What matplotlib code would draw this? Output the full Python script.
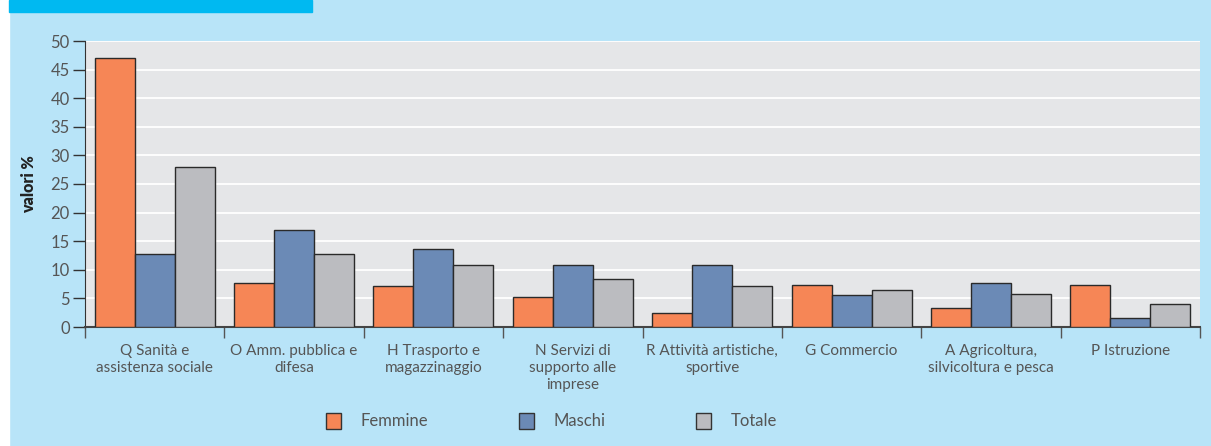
import matplotlib
matplotlib.use("Agg")
import matplotlib.pyplot as plt
from matplotlib.patches import Rectangle, Patch
import numpy as np

categories = ["Q Sanità e\nassistenza sociale", "O Amm. pubblica e\ndifesa",
              "H Trasporto e\nmagazzinaggio", "N Servizi di\nsupporto alle\nimprese",
              "R Attività artistiche,\nsportive", "G Commercio",
              "A Agricoltura,\nsilvicoltura e pesca", "P Istruzione"]
femmine = [47.0, 7.7, 7.2, 5.2, 2.5, 7.4, 3.4, 7.3]
maschi = [12.7, 16.9, 13.6, 10.9, 10.8, 5.6, 7.7, 1.5]
totale = [28.0, 12.7, 10.8, 8.4, 7.1, 6.4, 5.8, 4.1]
series_names = ["Femmine", "Maschi", "Totale"]
colors = ["#f68656", "#6b8ab6", "#bbbcc0"]
yticks = list(range(0, 51, 5))

plt.rcParams['font.family'] = ['Lato', 'DejaVu Sans']
W, H = 1211, 446
fig = plt.figure(figsize=(W / 100, H / 100), dpi=100)
fig.patch.set_facecolor("#b8e4f8")
# white left strip and top blue band
fig.add_artist(Rectangle((0, 0), 9 / W, 1, transform=fig.transFigure, color="white", zorder=0))
fig.add_artist(Rectangle((9 / W, 1 - 12 / H), (312 - 9) / W, 12 / H, transform=fig.transFigure,
                         color="#00b9f1", zorder=0))

ax = fig.add_axes([85 / W, 119 / H, (1200 - 85) / W, (327 - 41) / H])
ax.set_facecolor("#e5e6e8")
n = len(categories)
x = np.arange(n) + 0.5
bw = 0.287
for k, (vals, col) in enumerate(zip([femmine, maschi, totale], colors)):
    ax.bar(x + (k - 1) * bw, vals, width=bw, color=col, edgecolor="#2a2a2a", linewidth=1.0, zorder=3)

ax.set_xlim(0, n)
ax.set_ylim(0, 50)
ax.set_yticks(yticks)
ax.yaxis.grid(True, color="white", linewidth=1.3, zorder=1)
ax.set_axisbelow(True)
ax.tick_params(axis="y", length=9, width=1, color="#333333", labelsize=12, labelcolor="#555555", pad=2)
ax.set_xticks(np.arange(n + 1))
ax.set_xticklabels([])
ax.tick_params(axis="x", which="major", length=8, width=1, color="#555555")
ax.set_xticks(x, minor=True)
ax.set_xticklabels(categories, minor=True, fontsize=11, color="#555555", linespacing=1.3)
ax.tick_params(axis="x", which="minor", length=0, pad=12)
for s in ["top", "right"]:
    ax.spines[s].set_visible(False)
ax.spines["left"].set_color("#333333")
ax.spines["bottom"].set_color("#444444")
ax.spines["bottom"].set_linewidth(1.5)
ax.set_ylabel("valori %", fontsize=11.5, fontweight="heavy", color="#222222", labelpad=10)

handles = [Patch(facecolor=c, edgecolor="#333333", linewidth=1.0) for c in colors]
fig.legend(handles, series_names, loc="center left", bbox_to_anchor=(311 / W, 1 - 421 / H),
           ncol=3, frameon=False, fontsize=12, handlelength=0.9, handleheight=1.15,
           handletextpad=1.2, columnspacing=5.4, labelcolor="#555555")

fig.savefig("out.png", dpi=100, facecolor=fig.get_facecolor())
